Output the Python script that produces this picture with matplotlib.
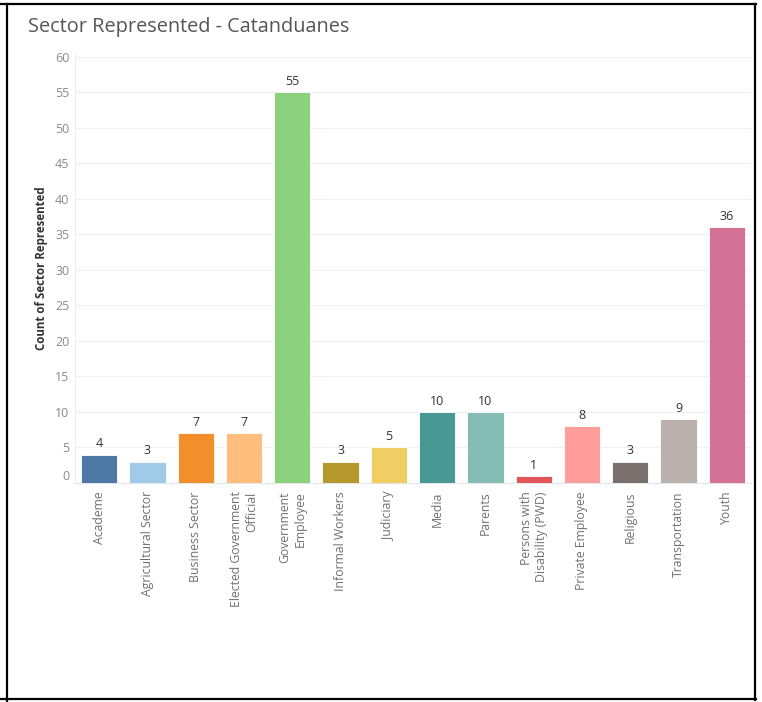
import matplotlib.pyplot as plt
from matplotlib.lines import Line2D

# Sector counts for Catanduanes
sectors = ["Academe", "Agricultural Sector", "Business Sector",
           "Elected Government\nOfficial", "Government\nEmployee",
           "Informal Workers", "Judiciary", "Media", "Parents",
           "Persons with\nDisability (PWD)", "Private Employee",
           "Religious", "Transportation", "Youth"]
counts = [4, 3, 7, 7, 55, 3, 5, 10, 10, 1, 8, 3, 9, 36]
colors = ["#4E79A7", "#A0CBE8", "#F28E2B", "#FFBE7D", "#8CD17D",
          "#B6992D", "#F1CE63", "#499894", "#86BCB6", "#E15759",
          "#FF9D9A", "#79706E", "#BAB0AC", "#D37295"]
yticks = list(range(0, 61, 5))

plt.rcParams['font.family'] = ['Open Sans', 'DejaVu Sans']

fig = plt.figure(figsize=(7.62, 7.02), dpi=100)
ax = fig.add_axes([75 / 762, 219 / 702, 676 / 762, 429 / 702])

x = list(range(len(sectors)))
bars = ax.bar(x, counts, width=0.75, color=colors, edgecolor="white",
              linewidth=0.6, zorder=3)
for xi, v in zip(x, counts):
    ax.text(xi, v + 0.6, str(v), ha="center", va="bottom",
            fontsize=9, color="#333333")

ax.set_xlim(-0.5, len(sectors) - 0.5)
ax.set_ylim(0, 60.4)
ax.set_yticks(yticks)
ax.set_yticklabels([str(t) for t in yticks])
ax.grid(axis="y", color="#f0f0f0", linewidth=0.8, zorder=0)
ax.tick_params(axis="y", length=0, labelsize=9, labelcolor="#8a8a8a", pad=4)
# the zero label sits just above the baseline
ax.get_yticklabels()[0].set_verticalalignment("bottom")

ax.set_xticks(x)
ax.set_xticklabels(sectors, rotation=90, ha="center", va="top",
                   multialignment="right", fontsize=8.8, color="#707070")
ax.set_xticks([i + 0.5 for i in x[:-1]], minor=True)
ax.tick_params(axis="x", which="major", length=0, pad=6)
ax.tick_params(axis="x", which="minor", length=3, color="#eeeeee")

for s in ["top", "right"]:
    ax.spines[s].set_visible(False)
ax.spines["left"].set_color("#eeeeee")
ax.spines["bottom"].set_color("#e6e6e6")

ax.set_ylabel("Count of Sector Represented", fontsize=8.3, fontweight="bold",
              color="#333333")
ax.yaxis.set_label_coords(-0.04, 0.5)

fig.text(28 / 762, 1 - 27 / 702, "Sector Represented - Catanduanes",
         fontsize=14.3, color="#555555", ha="left", va="center")

# frame around the sheet
for xs, ys in [([0, 756], [698.5, 698.5]), ([0, 756], [3.5, 3.5]),
               ([7, 7], [3.5, 702]), ([755, 755], [3.5, 700])]:
    fig.add_artist(Line2D([v / 762 for v in xs], [1 - v / 702 for v in ys],
                          color="black", linewidth=1.6))

fig.savefig("out.png", dpi=100, facecolor="white")
